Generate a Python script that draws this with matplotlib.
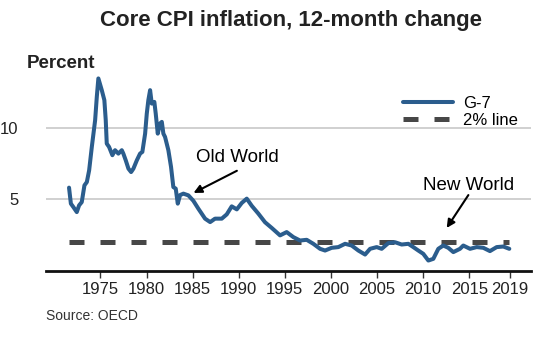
import matplotlib
matplotlib.use("Agg")
import matplotlib.pyplot as plt

plt.rcParams['font.family'] = ['Liberation Sans', 'DejaVu Sans']

# G-7 core CPI, 12-month change (percent)
years = [
    1971.60, 1971.80, 1972.07, 1972.44, 1972.69, 1972.98, 1973.27, 1973.53, 1973.78, 1974.07,
    1974.43, 1974.61, 1974.78, 1975.15, 1975.43, 1975.58, 1975.69, 1975.94, 1976.30, 1976.59,
    1976.95, 1977.32, 1977.49, 1977.75, 1978.04, 1978.33, 1978.58, 1978.95, 1979.30, 1979.55,
    1979.85, 1980.03, 1980.20, 1980.39, 1980.57, 1980.85, 1981.00, 1981.22, 1981.47, 1981.66,
    1981.83, 1982.01, 1982.37, 1982.66, 1982.91, 1983.17, 1983.39, 1983.64, 1984.00, 1984.54,
    1985.08, 1985.62, 1986.35, 1986.90, 1987.43, 1988.16, 1988.70, 1989.24, 1989.79, 1990.33,
    1990.87, 1991.41, 1992.13, 1992.85, 1993.58, 1994.48, 1995.20, 1995.92, 1996.65, 1997.37,
    1998.09, 1998.82, 1999.36, 2000.08, 2000.80, 2001.53, 2002.25, 2002.97, 2003.70, 2004.24,
    2004.96, 2005.50, 2006.22, 2006.95, 2007.67, 2008.39, 2008.93, 2009.47, 2010.01, 2010.56,
    2011.10, 2011.64, 2012.18, 2012.72, 2013.27, 2013.99, 2014.35, 2015.08, 2015.80, 2016.52,
    2017.24, 2017.97, 2018.69, 2019.34,
]
core_cpi = [
    5.82, 4.70, 4.46, 4.11, 4.58, 4.81, 5.98, 6.21, 7.03, 8.67,
    10.54, 12.17, 13.46, 12.64, 11.94, 10.54, 8.90, 8.67, 8.09, 8.44,
    8.20, 8.44, 8.20, 7.73, 7.15, 6.91, 7.15, 7.73, 8.20, 8.32,
    9.60, 11.00, 11.94, 12.64, 11.70, 11.82, 11.00, 9.60, 10.31, 10.42,
    9.60, 9.37, 8.44, 7.27, 5.86, 5.75, 4.70, 5.30, 5.40, 5.28,
    4.90, 4.35, 3.65, 3.41, 3.65, 3.65, 3.95, 4.51, 4.30, 4.75,
    5.05, 4.55, 4.00, 3.40, 3.00, 2.48, 2.71, 2.36, 2.12, 2.17,
    1.89, 1.54, 1.42, 1.61, 1.66, 1.89, 1.77, 1.42, 1.14, 1.54,
    1.66, 1.54, 1.94, 2.00, 1.84, 1.89, 1.66, 1.42, 1.19, 0.72,
    0.84, 1.54, 1.77, 1.61, 1.31, 1.54, 1.77, 1.54, 1.66, 1.61,
    1.38, 1.66, 1.70, 1.54,
]
target = 2.0

tick_years = [1975, 1980, 1985, 1990, 1995, 2000, 2005, 2010, 2015, 2019.4]
tick_labels = ['1975', '1980', '1985', '1990', '1995', '2000', '2005', '2010', '2015', '2019']
grid_levels = [5, 10]

blue = '#2b5d8d'
dark = '#474747'

fig = plt.figure(figsize=(5.5, 3.45), dpi=100)
ax = fig.add_axes([0.0836, 0.215, 0.882, 0.58])

ax.plot(years, core_cpi, color=blue, lw=2.9, solid_joinstyle='round',
        solid_capstyle='round', label='G-7', zorder=3)
ax.plot([years[0], years[-1]], [target, target], color=dark, lw=3.6,
        dashes=(3.0, 3.2), label='2% line', zorder=2)

for lvl in grid_levels:
    ax.axhline(lvl, color='#c8c8c8', lw=1.2, zorder=1)

ax.set_xlim(1969.1, 2021.7)
ax.set_ylim(0, 14)
ax.set_xticks(tick_years)
ax.set_xticklabels(tick_labels, fontsize=12, color='#222222')
ax.set_yticks(grid_levels)
ax.set_yticklabels([str(v) for v in grid_levels], fontsize=12, color='#222222')
ax.tick_params(axis='y', length=0, pad=20)
ax.tick_params(axis='x', length=5, width=1, color='#333333', pad=3)

for side in ['top', 'right', 'left']:
    ax.spines[side].set_visible(False)
ax.spines['bottom'].set_linewidth(2)
ax.spines['bottom'].set_color('#111111')

# labels and pointer arrows
arrow_style = dict(arrowstyle='-|>', color='black', lw=1.5,
                   mutation_scale=12, shrinkA=0, shrinkB=0)
ax.text(1989.8, 7.9, 'Old World', ha='center', va='center', fontsize=13.5)
ax.annotate('', xy=(1985.1, 5.45), xytext=(1989.8, 7.0), arrowprops=arrow_style)
ax.text(2014.9, 6.0, 'New World', ha='center', va='center', fontsize=13.5)
ax.annotate('', xy=(2012.55, 3.0), xytext=(2014.9, 5.3), arrowprops=arrow_style)

ax.legend(loc='upper left', bbox_to_anchor=(0.733, 0.721),
          bbox_transform=fig.transFigure, frameon=False, fontsize=12,
          handlelength=3.0, handletextpad=0.6, labelspacing=0.1,
          borderpad=0, borderaxespad=0)

fig.text(0.53, 0.942, 'Core CPI inflation, 12-month change', ha='center',
         va='center', fontsize=16, fontweight='bold', color='#222222')
fig.text(0.048, 0.817, 'Percent', ha='left', va='center', fontsize=13.5,
         fontweight='bold', color='#222222')
fig.text(0.083, 0.085, 'Source: OECD', ha='left', va='center', fontsize=10,
         color='#333333')

fig.savefig('out.png', dpi=100)
